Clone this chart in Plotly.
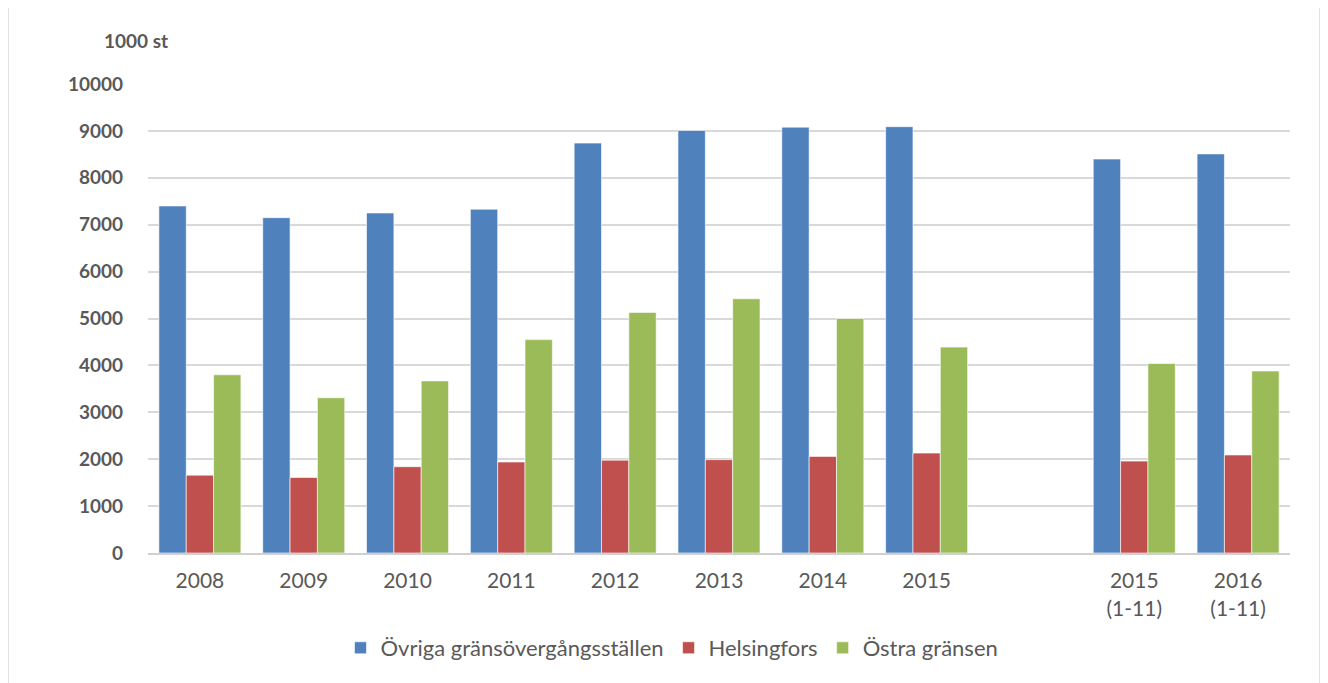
import plotly.graph_objects as go

# Categories (blank slot between 2015 and the partial-year columns)
categories = ['2008', '2009', '2010', '2011', '2012', '2013', '2014', '2015', ' ',
              '2015<br>(1-11)', '2016<br>(1-11)']

ovriga = [7400, 7150, 7250, 7330, 8740, 9010, 9080, 9090, None, 8400, 8510]
helsingfors = [1660, 1610, 1840, 1940, 1980, 1990, 2060, 2130, None, 1960, 2090]
ostra = [3800, 3310, 3670, 4550, 5130, 5420, 5000, 4390, None, 4040, 3880]

series_names = ['Övriga gränsövergångsställen', 'Helsingfors', 'Östra gränsen']
colors = ['#4F81BD', '#C0504D', '#9BBB59']

font_family = 'Lato, Open Sans, sans-serif'
text_color = '#595959'

fig = go.Figure()
for name, vals, col in zip(series_names, [ovriga, helsingfors, ostra], colors):
    fig.add_trace(go.Bar(
        x=categories,
        y=vals,
        name=name,
        marker=dict(color=col, line=dict(color='rgba(255,255,255,0.6)', width=1)),
    ))

# page has an 8px body margin, so the figure is a bit smaller than the window
W, H = 1320, 675
left, right, top, bottom = 140, 38, 76, 130
pw = W - left - right
ph = H - top - bottom

fig.update_layout(
    width=W,
    height=H,
    barmode='group',
    bargap=0.21,
    bargroupgap=0,
    plot_bgcolor='white',
    paper_bgcolor='white',
    margin=dict(l=left, r=right, t=top, b=bottom, autoexpand=False),
    font=dict(family=font_family, color=text_color),
    xaxis=dict(
        type='category',
        tickfont=dict(size=21, color=text_color),
        showgrid=False,
        showline=True,
        linecolor='#d0d0d0',
        linewidth=2,
        ticks='',
        ticklabelstandoff=8,
    ),
    yaxis=dict(
        range=[0, 10000],
        dtick=1000,
        tickformat='d',
        tickfont=dict(size=19, color=text_color, family=font_family, weight='bold'),
        showgrid=True,
        gridcolor='#d9d9d9',
        gridwidth=1.5,
        zeroline=False,
        ticks='',
        ticklabelstandoff=24,
    ),
    legend=dict(
        orientation='h',
        x=(672 - 148) / pw,
        xanchor='center',
        y=-95 / ph,
        yanchor='middle',
        font=dict(size=22, color=text_color),
        itemwidth=30,
        traceorder='normal',
    ),
    annotations=[dict(
        text='<b>1000 st</b>',
        xref='paper', yref='paper',
        x=(170 - 148) / pw, y=(553 - 40) / ph,
        xanchor='right', yanchor='middle',
        showarrow=False,
        font=dict(size=19, color=text_color),
    )],
    shapes=[dict(
        type='rect',
        xref='paper', yref='paper',
        x0=(8 - 148) / pw, x1=(1320 - 148) / pw,
        y0=(553 - 690) / ph, y1=(553 - 5) / ph,
        line=dict(color='#d9d9d9', width=1.5),
        layer='below',
    )],
)

fig.write_html('out.html')
